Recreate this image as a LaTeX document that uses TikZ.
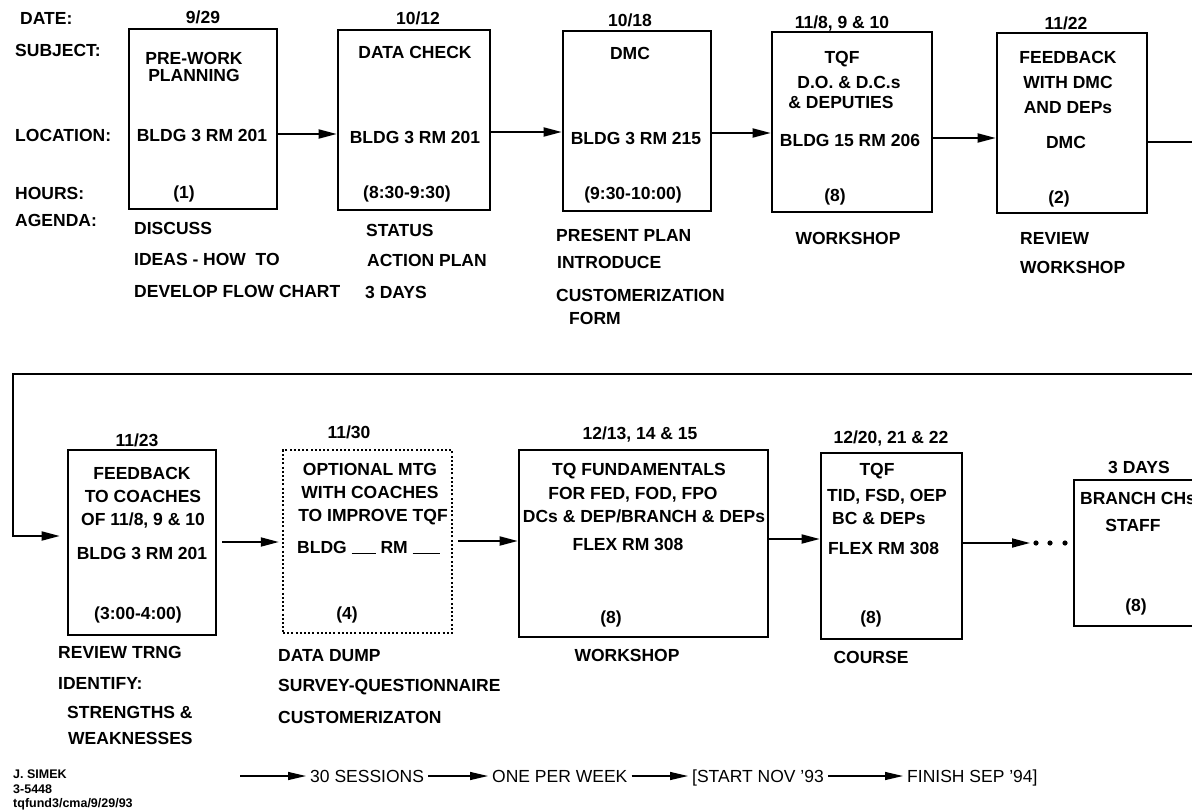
\documentclass[tikz,border=0pt]{standalone}
\usepackage{fontspec}
\setmainfont{Liberation Sans}
\usetikzlibrary{arrows.meta}

\begin{document}
\begin{tikzpicture}[
    x=1pt, y=-1pt,
    every node/.style={inner sep=0pt, text height=12.6pt, text depth=0pt,
        font=\bfseries\fontsize{17.5}{20}\selectfont},
    lft/.style={anchor=west},
    box/.style={draw, line width=2.6pt},
    optbox/.style={draw, line width=2.4pt, dash pattern=on 2pt off 2.2pt},
    arrow/.style={-{Triangle[length=18pt,width=9pt]}, line width=1.8pt},
    carrow/.style={-{Triangle[length=18pt,width=8pt]}, line width=1.3pt},
    chain/.style={anchor=west, inner xsep=4pt, font=\fontsize{17.5}{20}\selectfont},
    sig/.style={anchor=west, text height=9pt, font=\bfseries\fontsize{12.5}{14}\selectfont}
]
    \useasboundingbox[fill=white] (0,0) rectangle (1192,811);

    % Row headings
    \node[lft] (hdate) at (20,18) {DATE:};
    \node[lft] (hsubj) at (15,50) {SUBJECT:};
    \node[lft] (hloc) at (15,135) {LOCATION:};
    \node[lft] (hhrs) at (15,193) {HOURS:};
    \node[lft] (hagd) at (15,220) {AGENDA:};

    % Boxes, first row
    \node[box, minimum width=148pt, minimum height=180pt] (b1) at (203,119) {};
    \node[box, minimum width=152pt, minimum height=180pt] (b2) at (414,120) {};
    \node[box, minimum width=148pt, minimum height=180pt] (b3) at (637,121) {};
    \node[box, minimum width=160pt, minimum height=180pt] (b4) at (852,122) {};
    \node[box, minimum width=150pt, minimum height=180pt] (b5) at (1072,123) {};

    % Boxes, second row
    \node[box, minimum width=148pt, minimum height=185pt] (b6) at (142,542.5) {};
    \node[optbox, minimum width=169pt, minimum height=183pt] (b7) at (367.5,541.5) {};
    \node[box, minimum width=249pt, minimum height=187pt] (b8) at (643.5,543.5) {};
    \node[box, minimum width=141pt, minimum height=186pt] (b9) at (891.5,546) {};
    \node[box, minimum width=160pt, minimum height=146pt] (b10) at (1154,553) {};

    % 9/29
    \node (d1) at (203,17) {9/29};
    \node (sub1a) at (194,58) {PRE-WORK};
    \node (sub1b) at (194,75) {PLANNING};
    \node (loc1) at (202,135) {BLDG 3 RM 201};
    \node (hrs1) at (184,192) {(1)};
    \node[lft] (agd1a) at (134,228) {DISCUSS};
    \node[lft] (agd1b) at (134,259) {IDEAS - HOW\ \ TO};
    \node[lft] (agd1c) at (134,291) {DEVELOP FLOW CHART};

    % 10/12
    \node (d2) at (418,18) {10/12};
    \node (sub2) at (415,52) {DATA CHECK};
    \node (loc2) at (415,137) {BLDG 3 RM 201};
    \node (hrs2) at (407,192) {(8:30-9:30)};
    \node[lft] (agd2a) at (366,230) {STATUS};
    \node[lft] (agd2b) at (367,260) {ACTION PLAN};
    \node[lft] (agd2c) at (365,292) {3 DAYS};

    % 10/18
    \node (d3) at (630,20) {10/18};
    \node (sub3) at (630,53) {DMC};
    \node (loc3) at (636,138) {BLDG 3 RM 215};
    \node (hrs3) at (633,193) {(9:30-10:00)};
    \node[lft] (agd3a) at (556,235) {PRESENT PLAN};
    \node[lft] (agd3b) at (557,262) {INTRODUCE};
    \node[lft] (agd3c) at (556,295) {CUSTOMERIZATION};
    \node[lft] (agd3d) at (569,318) {FORM};

    % 11/8, 9 & 10
    \node (d4) at (842,22) {11/8, 9 \& 10};
    \node (sub4a) at (842,57) {TQF};
    \node (sub4b) at (849,82) {D.O. \& D.C.s};
    \node (sub4c) at (841,102) {\& DEPUTIES};
    \node (loc4) at (850,140) {BLDG 15 RM 206};
    \node (hrs4) at (835,195) {(8)};
    \node (agd4) at (848,238) {WORKSHOP};

    % 11/22
    \node (d5) at (1066,23) {11/22};
    \node (sub5a) at (1068,57) {FEEDBACK};
    \node (sub5b) at (1068,82) {WITH DMC};
    \node (sub5c) at (1068,107) {AND DEPs};
    \node (loc5) at (1066,142) {DMC};
    \node (hrs5) at (1059,197) {(2)};
    \node[lft] (agd5a) at (1020,238) {REVIEW};
    \node[lft] (agd5b) at (1020,267) {WORKSHOP};

    % 11/23
    \node (d6) at (137,440) {11/23};
    \node (sub6a) at (142,473) {FEEDBACK};
    \node (sub6b) at (143,496) {TO COACHES};
    \node (sub6c) at (143,519) {OF 11/8, 9 \& 10};
    \node (loc6) at (142,553) {BLDG 3 RM 201};
    \node (hrs6) at (138,613) {(3:00-4:00)};
    \node[lft] (agd6a) at (58,652) {REVIEW TRNG};
    \node[lft] (agd6b) at (58,683) {IDENTIFY:};
    \node[lft] (agd6c) at (67,712) {STRENGTHS \&};
    \node[lft] (agd6d) at (68,738) {WEAKNESSES};

    % 11/30
    \node (d7) at (349,432) {11/30};
    \node (sub7a) at (370,469) {OPTIONAL MTG};
    \node (sub7b) at (370,492) {WITH COACHES};
    \node (sub7c) at (373,515) {TO IMPROVE TQF};
    \node[lft] (loc7) at (297,547) {BLDG \rule[-1pt]{24pt}{1.6pt} RM \rule[-1pt]{27pt}{1.6pt}};
    \node (hrs7) at (347,613) {(4)};
    \node[lft] (agd7a) at (278,655) {DATA DUMP};
    \node[lft] (agd7b) at (278,685) {SURVEY-QUESTIONNAIRE};
    \node[lft] (agd7c) at (278,717) {CUSTOMERIZATON};

    % 12/13, 14 & 15
    \node (d8) at (640,433) {12/13, 14 \& 15};
    \node (sub8a) at (639,469) {TQ FUNDAMENTALS};
    \node (sub8b) at (633,493) {FOR FED, FOD, FPO};
    \node (sub8c) at (644,516) {DCs \& DEP/BRANCH \& DEPs};
    \node (loc8) at (628,544) {FLEX RM 308};
    \node (hrs8) at (611,617) {(8)};
    \node (agd8) at (627,655) {WORKSHOP};

    % 12/20, 21 & 22
    \node (d9) at (891,437) {12/20, 21 \& 22};
    \node (sub9a) at (877,469) {TQF};
    \node[lft] (sub9b) at (827,495) {TID, FSD, OEP};
    \node[lft] (sub9c) at (832,518) {BC \& DEPs};
    \node[lft] (loc9) at (828,548) {FLEX RM 308};
    \node (hrs9) at (871,617) {(8)};
    \node (agd9) at (871,657) {COURSE};

    % 3 days
    \node (d10) at (1139,467) {3 DAYS};
    \node[lft] (sub10a) at (1080,498) {BRANCH CHs};
    \node (sub10b) at (1133,525) {STAFF};
    \node (hrs10) at (1136,605) {(8)};

    % Arrows
    \draw[arrow] (b1.east |- 0,134) -- (b2.west |- 0,134);
    \draw[arrow] (b2.east |- 0,132) -- (b3.west |- 0,132);
    \draw[arrow] (b3.east |- 0,133) -- (b4.west |- 0,133);
    \draw[arrow] (b4.east |- 0,138) -- (b5.west |- 0,138);
    \draw[arrow, shorten >=7pt] (b5.east |- 0,142) -- (1202,142) -- (1202,374)
        -- (13,374) |- (b6.west |- 0,536);
    \draw[arrow, shorten <=5pt, shorten >=3pt] (b6.east |- 0,542) -- (b7.west |- 0,542);
    \draw[arrow, shorten <=5pt] (b7.east |- 0,541) -- (b8.west |- 0,541);
    \draw[arrow] (b8.east |- 0,539) -- (b9.west |- 0,539);
    \coordinate (dots) at (1030,543);
    \draw[arrow] (b9.east |- dots) -- (dots);
    \foreach \dx in {6,20,35}
        \fill ([xshift=\dx pt]dots) circle (2.6pt);

    % Footer
    \node[sig] (signame) at (13,774) {J. SIMEK};
    \node[sig] (sigtel) at (13,789) {3-5448};
    \node[sig] (sigfile) at (13,803) {tqfund3/cma/9/29/93};

    \coordinate (cstart) at (240,776);
    \node[chain] (c1) at (306,776) {30 SESSIONS};
    \node[chain] (c2) at (488,776) {ONE PER WEEK};
    \node[chain] (c3) at (688,776) {[START NOV '93};
    \node[chain] (c4) at (903,776) {FINISH SEP '94]};
    \draw[carrow] (cstart) -- (c1.west);
    \draw[carrow] (c1.east) -- (c2.west);
    \draw[carrow] (c2.east) -- (c3.west);
    \draw[carrow] (c3.east) -- (c4.west);
\end{tikzpicture}
\end{document}
